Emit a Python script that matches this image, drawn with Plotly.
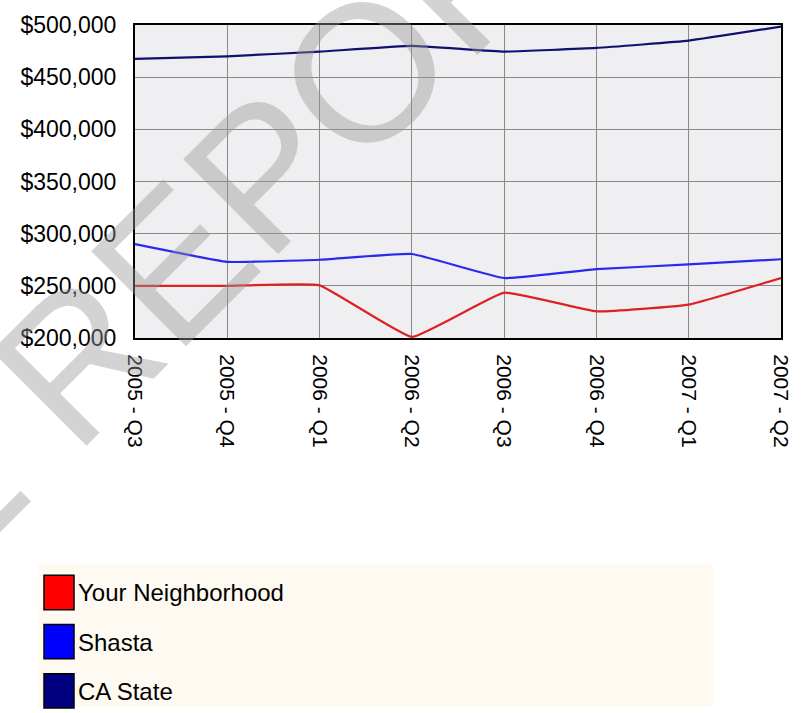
import plotly.graph_objects as go

quarters = ["2005 - Q3", "2005 - Q4", "2006 - Q1", "2006 - Q2",
            "2006 - Q3", "2006 - Q4", "2007 - Q1", "2007 - Q2"]
neighborhood = [250000, 250000, 250500, 201000, 243500, 225500, 232000, 257500]
shasta = [290000, 273000, 275000, 280500, 257500, 266000, 270500, 275500]
ca_state = [467500, 470000, 474500, 480000, 474500, 478000, 485000, 498500]

series_names = ["Your Neighborhood", "Shasta", "CA State"]
series_values = [neighborhood, shasta, ca_state]
line_colors = ["#dd2222", "#2a2aee", "#10106e"]
legend_colors = ["#ff0000", "#0000ff", "#000080"]

W, H = 812, 713
L, R, T, B = 135, 31, 20, 375
PW, PH = W - L - R, H - T - B

fig = go.Figure()
for name, vals, col in zip(series_names, series_values, line_colors):
    fig.add_trace(go.Scatter(
        x=list(range(len(quarters))), y=vals, name=name, mode="lines",
        line=dict(color=col, width=2.2, shape="spline", smoothing=0.3),
        showlegend=False, hoverinfo="skip"))

def px_x(p):
    return (p - L) / PW

def px_y(p):
    return 1 - (p - T) / PH

# custom legend
shapes = [dict(type="rect", xref="paper", yref="paper",
               x0=px_x(38), x1=px_x(713), y0=px_y(568), y1=px_y(713),
               fillcolor="#fefaf2", line=dict(width=0), layer="below")]
annotations = []
for i, (name, col) in enumerate(zip(series_names, legend_colors)):
    top = 579 + i * 50
    shapes.append(dict(type="rect", xref="paper", yref="paper",
                       x0=px_x(44), x1=px_x(74), y0=px_y(top), y1=px_y(top + 35),
                       fillcolor=col, line=dict(color="#000000", width=1.5)))
    annotations.append(dict(xref="paper", yref="paper", x=px_x(76), y=px_y(top + 18),
                            text=name, showarrow=False, xanchor="left", yanchor="middle",
                            font=dict(family="Liberation Sans, Arial", size=24, color="#000000")))

# watermark
annotations.append(dict(xref="paper", yref="paper", x=px_x(14), y=px_y(423),
                        text="SAMPLE REPORT", showarrow=False, textangle=-45,
                        xanchor="center", yanchor="middle",
                        font=dict(family="Liberation Sans, Arial", size=195,
                                  color="rgba(150,150,150,0.42)")))

fig.update_layout(
    width=W, height=H,
    margin=dict(l=L, r=R, t=T, b=B, pad=0),
    paper_bgcolor="#ffffff", plot_bgcolor="#efeff2",
    shapes=shapes, annotations=annotations,
    font=dict(family="Liberation Sans, Arial", color="#000000"),
)
fig.update_xaxes(
    range=[0, len(quarters) - 1], tickmode="array",
    tickvals=list(range(len(quarters))), ticktext=quarters,
    tickangle=90, tickfont=dict(size=21, color="#000000"),
    ticks="outside", ticklen=10, tickcolor="rgba(0,0,0,0)",
    showgrid=True, gridcolor="#8a8a8a", gridwidth=1,
    showline=True, linecolor="#000000", linewidth=2, mirror=True, zeroline=False,
)
fig.update_yaxes(
    range=[200000, 500000], tickmode="linear", tick0=200000, dtick=50000,
    tickprefix="$", tickformat=",", tickfont=dict(size=23, color="#000000"),
    ticks="outside", ticklen=12, tickcolor="rgba(0,0,0,0)",
    showgrid=True, gridcolor="#8a8a8a", gridwidth=1,
    showline=True, linecolor="#000000", linewidth=2, mirror=True, zeroline=False,
)

fig.write_html("out.html")
